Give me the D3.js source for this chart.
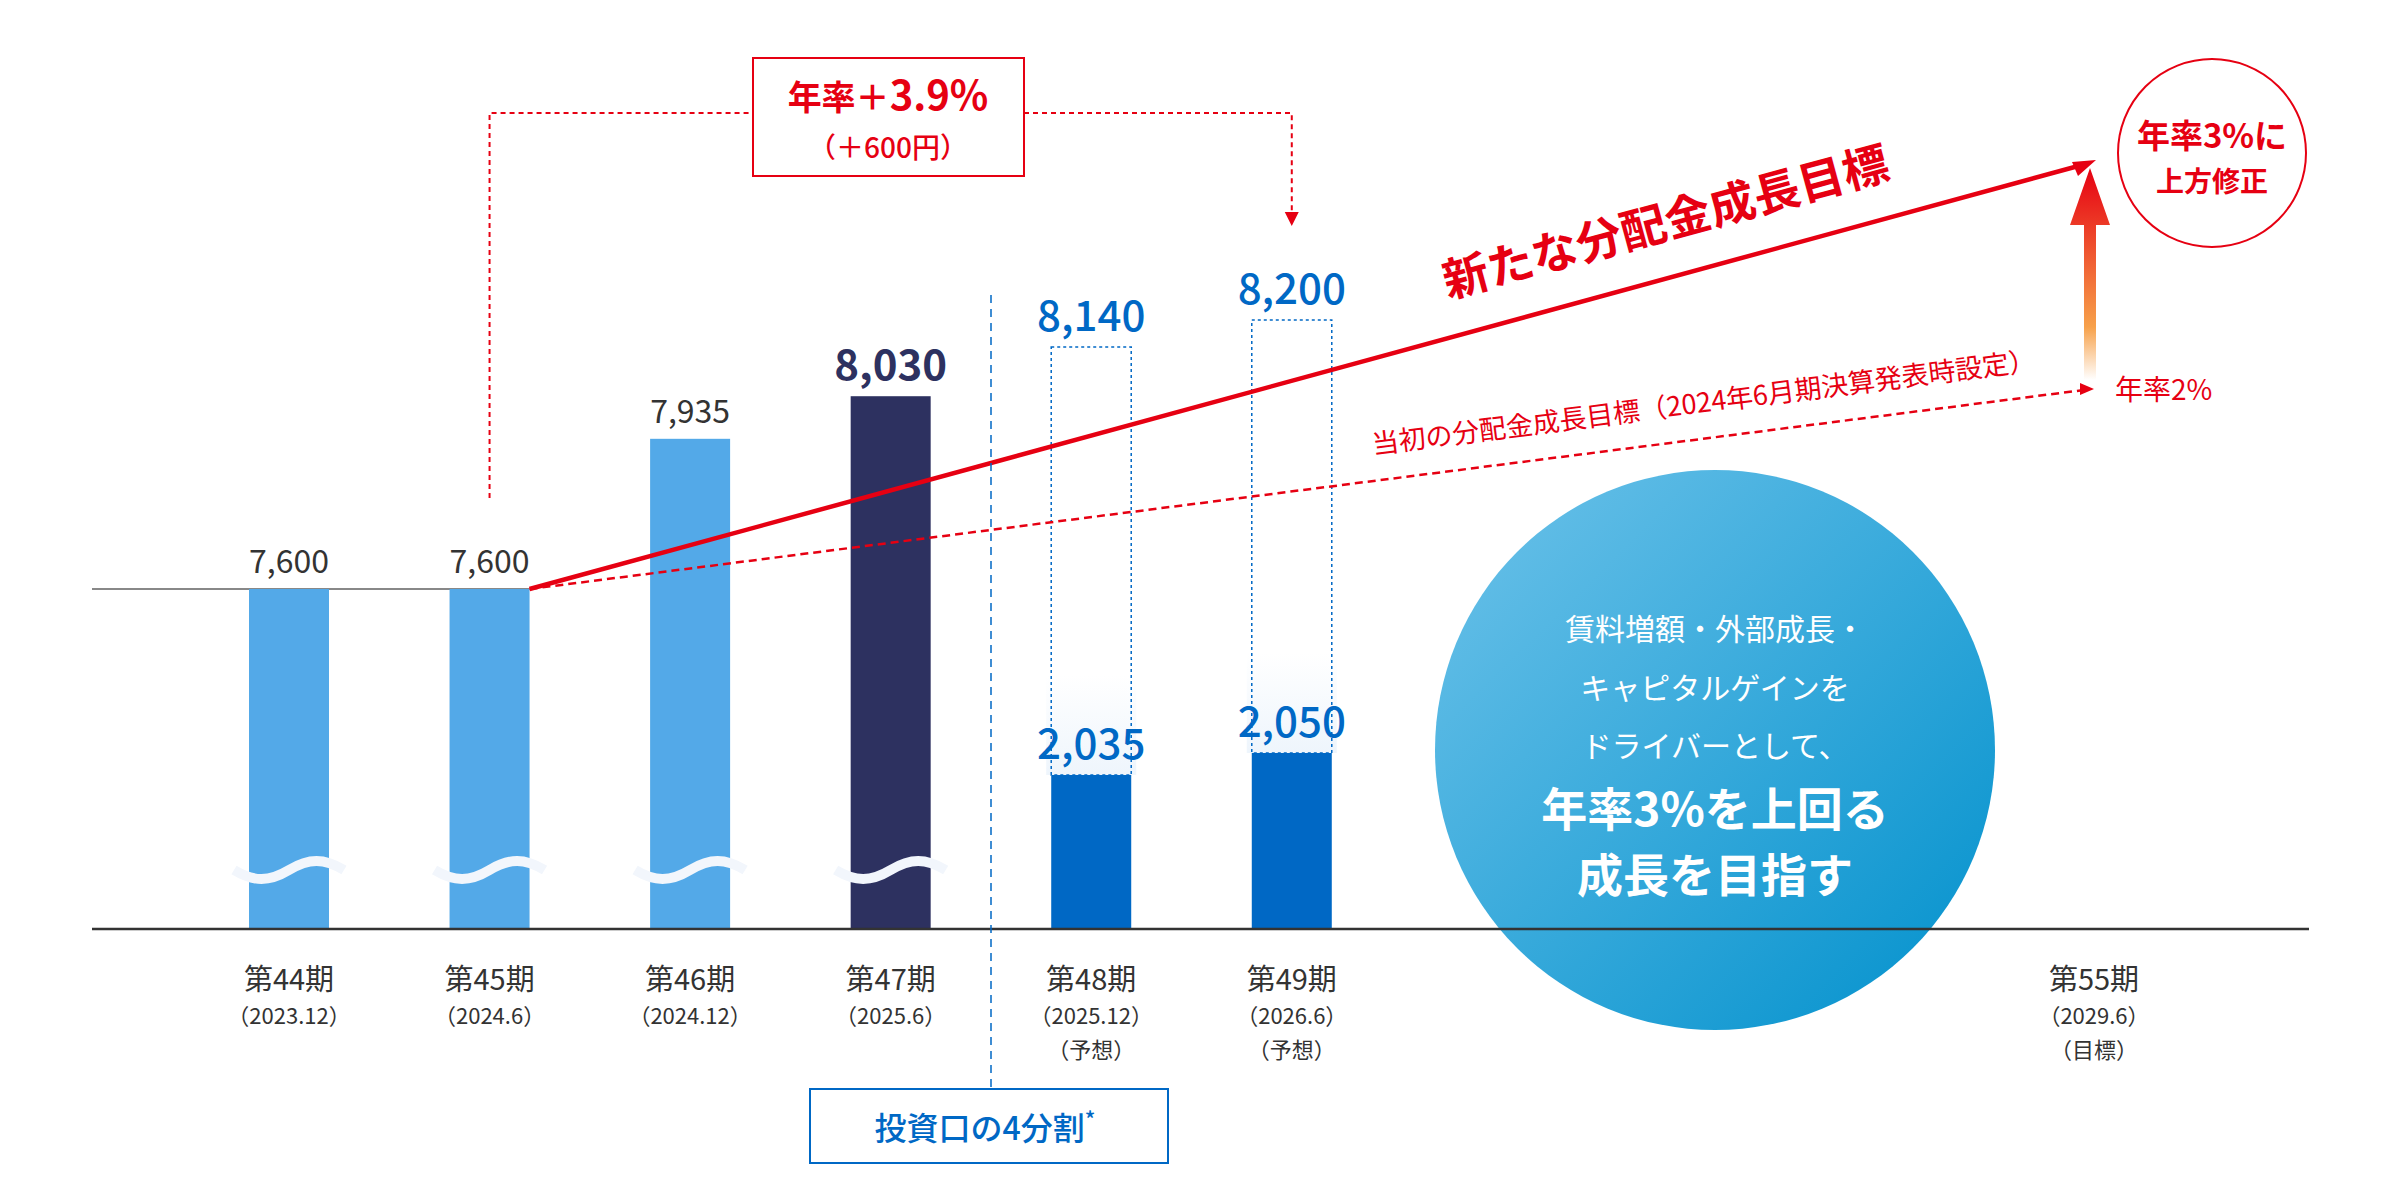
<!DOCTYPE html>
<html><head><meta charset="utf-8">
<script src="https://cdn.jsdelivr.net/npm/d3@7"></script>
<style>body{margin:0;background:#fff}svg{display:block}text{font-family:"Noto Sans CJK JP","Noto Sans",sans-serif}</style>
</head><body>
<svg id="c" width="2400" height="1200"></svg>
<script>
const slots = ["第44期","第45期","第46期","第47期","第48期","第49期","s1","s2","s3","第55期"];
const periodLabels = ["（2023.12）","（2024.6）","（2024.12）","（2025.6）","（2025.12）","（2026.6）","","","","（2029.6）"];
const noteLabels = ["","","","","（予想）","（予想）","","","","（目標）"];
const actualCats = ["第44期","第45期","第46期","第47期"];
const actualVals = [7600,7600,7935,8030];
const splitCats = ["第48期","第49期"];
const splitVals = [2035,2050];
const splitEquiv = [8140,8200];
const newTarget = [7600, 10100]; // start (45期) -> 55期 annualised 3%
const oldTarget = [7600, 9090];

const svg = d3.select("#c");
const x = d3.scalePoint().domain(slots).range([289,2094]);
const yU = d3.scaleLinear().domain([7600,8200]).range([589,320]);
const yL = d3.scaleLinear().domain([2035,2050]).range([775,753]);
const base = 929, bw = 80;
const defs = svg.append("defs");
const g1 = defs.append("linearGradient").attr("id","circ").attr("x1","0").attr("y1","0").attr("x2","1").attr("y2","1");
g1.append("stop").attr("offset","0").attr("stop-color","#6ec3ea");
g1.append("stop").attr("offset","1").attr("stop-color","#0090cc");
const g2 = defs.append("linearGradient").attr("id","arr").attr("x1","0").attr("y1","1").attr("x2","0").attr("y2","0");
g2.append("stop").attr("offset","0").attr("stop-color","#ffffff");
g2.append("stop").attr("offset","0.25").attr("stop-color","#f7a14a");
g2.append("stop").attr("offset","1").attr("stop-color","#e60012");
const g3 = defs.append("linearGradient").attr("id","fade").attr("x1","0").attr("y1","0").attr("x2","0").attr("y2","1");
g3.append("stop").attr("offset","0").attr("stop-color","#eef5fc").attr("stop-opacity",0);
g3.append("stop").attr("offset","1").attr("stop-color","#eef5fc").attr("stop-opacity",1);

// top grey line
svg.append("line").attr("x1",92).attr("x2",x("第45期")+bw/2).attr("y1",yU(7600)).attr("y2",yU(7600)).attr("stroke","#888").attr("stroke-width",2);

// big circle
svg.append("circle").attr("cx",1715).attr("cy",750).attr("r",280).attr("fill","url(#circ)");

// actual bars
const colors = ["#53a9e8","#53a9e8","#53a9e8","#2d3160"];
svg.selectAll(".ab").data(actualVals).join("rect")
 .attr("x",(d,i)=>x(actualCats[i])-bw/2).attr("width",bw)
 .attr("y",d=>yU(d)).attr("height",d=>base-yU(d)).attr("fill",(d,i)=>colors[i]);
// breaks
actualCats.forEach(c=>{
  const cx=x(c);
  svg.append("path").attr("d",`M${cx-55},870 C${cx-35},882 ${cx-20},882 ${cx},870 C${cx+20},858 ${cx+35},858 ${cx+55},870`)
   .attr("fill","none").attr("stroke","#f2f6fc").attr("stroke-width",10);
});
svg.selectAll(".al").data(actualVals).join("text")
 .attr("x",(d,i)=>x(actualCats[i])).attr("y",d=>yU(d)-16).attr("text-anchor","middle")
 .attr("font-size",(d,i)=>i==3?42:32).attr("font-weight",(d,i)=>i==3?700:400)
 .attr("fill",(d,i)=>i==3?"#2d3160":"#333").text(d=>d3.format(",")(d));

// split bars
splitVals.forEach((v,i)=>{
  const cx=x(splitCats[i]);
  svg.append("rect").attr("x",cx-bw/2-5).attr("width",bw+10).attr("y",yL(v)-100).attr("height",100).attr("fill","url(#fade)");
  svg.append("rect").attr("x",cx-bw/2).attr("width",bw).attr("y",yU(splitEquiv[i])).attr("height",yL(v)-yU(splitEquiv[i]))
   .attr("fill","none").attr("stroke","#0068c5").attr("stroke-width",1.5).attr("stroke-dasharray","3,3");
  svg.append("rect").attr("x",cx-bw/2).attr("width",bw).attr("y",yL(v)).attr("height",base-yL(v)).attr("fill","#0068c5");
  svg.append("text").attr("x",cx).attr("y",yL(v)-16).attr("text-anchor","middle").attr("font-size",42).attr("font-weight",500).attr("fill","#0068c5").text(d3.format(",")(v));
  svg.append("text").attr("x",cx).attr("y",yU(splitEquiv[i])-16).attr("text-anchor","middle").attr("font-size",42).attr("font-weight",500).attr("fill","#0068c5").text(d3.format(",")(splitEquiv[i]));
});

// baseline
svg.append("line").attr("x1",92).attr("x2",2309).attr("y1",base).attr("y2",base).attr("stroke","#333").attr("stroke-width",2.5);

// x labels
slots.forEach((s,i)=>{
  if(s.startsWith("s")) return;
  svg.append("text").attr("x",x(s)).attr("y",990).attr("text-anchor","middle").attr("font-size",29).attr("fill","#333").text(s);
  svg.append("text").attr("x",x(s)).attr("y",1024).attr("text-anchor","middle").attr("font-size",22).attr("fill","#333").text(periodLabels[i]);
  if(noteLabels[i]) svg.append("text").attr("x",x(s)).attr("y",1058).attr("text-anchor","middle").attr("font-size",22).attr("fill","#333").text(noteLabels[i]);
});

// target lines
const x0=x("第45期")+bw/2, x1=x("第55期");
svg.append("line").attr("x1",x0).attr("y1",yU(oldTarget[0])).attr("x2",x1-10).attr("y2",yU(7600)-199)
 .attr("stroke","#e60012").attr("stroke-width",2.5).attr("stroke-dasharray","8,5");
svg.append("path").attr("d",`M${x1},${yU(7600)-200} l-14,-6 l0,12 z`).attr("fill","#e60012");
svg.append("line").attr("x1",x0).attr("y1",yU(newTarget[0])).attr("x2",x1-12).attr("y2",165)
 .attr("stroke","#e60012").attr("stroke-width",4.5);
svg.append("path").attr("d","M2096,160 l-24,2 l6,14 z").attr("fill","#e60012");
const a1=Math.atan2(165-589,x1-x0)*180/Math.PI, a2=Math.atan2(-199,x1-x0)*180/Math.PI;
svg.append("text").attr("transform",`translate(1670,238) rotate(${a1})`).attr("text-anchor","middle").attr("font-size",46).attr("font-weight",700).attr("fill","#e60012").text("新たな分配金成長目標");
svg.append("text").attr("transform",`translate(1705,412) rotate(${a2})`).attr("text-anchor","middle").attr("font-size",27).attr("fill","#e60012").text("当初の分配金成長目標（2024年6月期決算発表時設定）");
svg.append("text").attr("x",2115).attr("y",400).attr("font-size",28).attr("fill","#e60012").text("年率2%");

// up arrow
svg.append("path").attr("d","M2084,380 L2084,225 L2070,225 L2090,168 L2110,225 L2096,225 L2096,380 Z").attr("fill","url(#arr)");
svg.append("circle").attr("cx",2212).attr("cy",153).attr("r",94).attr("fill","#fff").attr("stroke","#e60012").attr("stroke-width",2);
svg.append("text").attr("x",2212).attr("y",148).attr("text-anchor","middle").attr("font-size",33).attr("font-weight",700).attr("fill","#e60012").text("年率3%に");
svg.append("text").attr("x",2212).attr("y",192).attr("text-anchor","middle").attr("font-size",28).attr("font-weight",700).attr("fill","#e60012").text("上方修正");

// top bracket
svg.append("path").attr("d",`M${x("第45期")},498 V113 H753 M1024,113 H${x("第49期")} V212`).attr("fill","none").attr("stroke","#e60012").attr("stroke-width",2).attr("stroke-dasharray","5,4");
svg.append("path").attr("d",`M${x("第49期")},226 l-7,-14 l14,0 z`).attr("fill","#e60012");
svg.append("rect").attr("x",753).attr("y",58).attr("width",271).attr("height",118).attr("fill","#fff").attr("stroke","#e60012").attr("stroke-width",2);
svg.append("text").attr("x",888).attr("y",110).attr("text-anchor","middle").attr("font-size",34).attr("font-weight",700).attr("fill","#e60012")
 .call(t=>{t.append("tspan").text("年率＋");t.append("tspan").attr("font-size",40).text("3.9%");});
svg.append("text").attr("x",888).attr("y",158).attr("text-anchor","middle").attr("font-size",28).attr("font-weight",500).attr("fill","#e60012").text("（＋600円）");

// split marker
svg.append("line").attr("x1",991).attr("x2",991).attr("y1",295).attr("y2",1089).attr("stroke","#0068c5").attr("stroke-width",1.5).attr("stroke-dasharray","8,6");
svg.append("rect").attr("x",810).attr("y",1089).attr("width",358).attr("height",74).attr("fill","#fff").attr("stroke","#0068c5").attr("stroke-width",2);
svg.append("text").attr("x",985).attr("y",1140).attr("text-anchor","middle").attr("font-size",32).attr("font-weight",500).attr("fill","#0068c5")
 .call(t=>{t.append("tspan").text("投資口の4分割");t.append("tspan").attr("font-size",22).attr("dy",-12).text("*");});

// circle text
[["賃料増額・外部成長・",640,30,400],["キャピタルゲインを",699,30,400],["ドライバーとして、",757,30,400],["年率3%を上回る",826,46,700],["成長を目指す",892,46,700]]
.forEach(([t,y,s,w])=>svg.append("text").attr("x",1715).attr("y",y).attr("text-anchor","middle").attr("font-size",s).attr("font-weight",w).attr("fill","#fff").text(t));
</script>
</body></html>
